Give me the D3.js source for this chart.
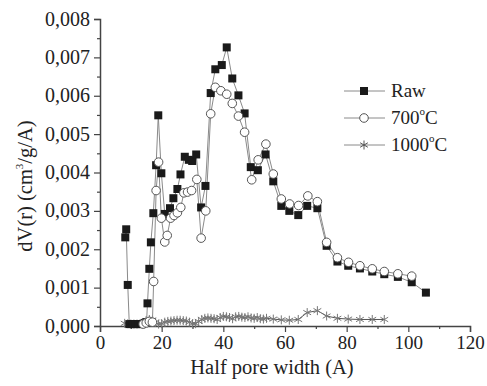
<!DOCTYPE html>
<html>
<head>
<meta charset="utf-8">
<script src="https://cdn.jsdelivr.net/npm/d3@7"></script>
<style>
  body { margin: 0; background: #fff; }
  text { font-family: "Liberation Serif", "Times New Roman", serif; fill: #222; }
</style>
</head>
<body>
<svg id="chart" width="487" height="386"></svg>
<script>
// Data (x = half pore width, y = dV(r) in cm3/g/A)
var rawX = [8.2, 8.5, 9.0, 9.5, 10.5, 11.5, 12.5, 13.5, 14.5, 15.1, 15.4, 16.0, 16.5, 17.3, 18.2, 18.9, 19.9, 21.0, 22.7, 23.8, 25.1, 26.1, 27.5, 28.8, 29.9, 31.2, 32.8, 34.2, 35.9, 37.4, 39.5, 41.1, 42.9, 44.9, 46.9, 48.9, 51.2, 53.7, 56.2, 58.8, 61.4, 64.3, 67.2, 70.5, 73.5, 77.0, 80.5, 84.3, 88.3, 92.2, 96.6, 101.1, 105.7]
var rawY = [0.00231, 0.00252, 0.00107, 0.00005, 0.00005, 0.00005, 0.00005, 0.00005, 0.00008, 0.00010, 0.00059, 0.00149, 0.00218, 0.00294, 0.00419, 0.00549, 0.00398, 0.00292, 0.00307, 0.00333, 0.00357, 0.00395, 0.00441, 0.00433, 0.00430, 0.00447, 0.00309, 0.00365, 0.00607, 0.00669, 0.00680, 0.00726, 0.00645, 0.00601, 0.00554, 0.00414, 0.00406, 0.00447, 0.00377, 0.00313, 0.00300, 0.00289, 0.00313, 0.00307, 0.00209, 0.00168, 0.00157, 0.00150, 0.00142, 0.00135, 0.00128, 0.00114, 0.00087]

var c700X = [14.0, 15.0, 16.0, 17.0, 17.4, 18.2, 19.0, 19.9, 21.0, 21.8, 22.9, 24.0, 25.1, 26.2, 27.2, 28.4, 29.7, 31.4, 32.8, 34.3, 35.9, 37.4, 39.2, 41.1, 42.9, 44.9, 46.9, 49.2, 51.3, 53.8, 56.2, 58.8, 61.5, 64.4, 67.4, 70.5, 73.5, 77.0, 80.6, 84.3, 88.3, 92.2, 96.6, 101.1]
var c700Y = [0.00005, 0.00008, 0.00012, 0.00010, 0.00116, 0.00353, 0.00427, 0.00281, 0.00219, 0.00236, 0.00281, 0.00288, 0.00295, 0.00309, 0.00347, 0.00349, 0.00353, 0.00382, 0.00229, 0.00300, 0.00553, 0.00622, 0.00613, 0.00604, 0.00580, 0.00547, 0.00505, 0.00381, 0.00433, 0.00474, 0.00396, 0.00331, 0.00318, 0.00314, 0.00339, 0.00324, 0.00218, 0.00178, 0.00166, 0.00157, 0.00149, 0.00142, 0.00136, 0.00130]

var c1000X = [8, 9, 10, 11, 12, 13, 14, 15, 16, 17, 18, 19, 20, 21, 22, 23, 24, 25, 26, 27, 28, 29, 30, 31, 32, 33, 34, 35, 36, 37, 38, 39, 40, 41, 42, 43, 44, 45, 46, 47, 48, 49, 50, 51, 52, 53, 54, 56.2, 58.8, 61.4, 64.3, 67.2, 70.5, 73.5, 77.0, 80.5, 84.3, 88.3, 92.2]
var c1000Y = [0.00007, 0.00006, 0.00005, 0.00005, 0.00005, 0.00006, 0.00008, 0.00014, 0.00017, 0.00015, 0.00010, 0.00005, 0.00006, 0.00010, 0.00012, 0.00013, 0.00014, 0.00015, 0.00015, 0.00014, 0.00013, 0.00010, 0.00006, 0.00006, 0.00012, 0.00017, 0.00020, 0.00021, 0.00020, 0.00019, 0.00017, 0.00022, 0.00025, 0.00024, 0.00022, 0.00019, 0.00024, 0.00025, 0.00023, 0.00022, 0.00024, 0.00021, 0.00020, 0.00022, 0.00019, 0.00018, 0.00020, 0.00018, 0.00016, 0.00015, 0.00017, 0.00035, 0.00040, 0.00026, 0.00020, 0.00018, 0.00017, 0.00017, 0.00017]

var xTicks = [0, 20, 40, 60, 80, 100, 120]
var yTicks = [0, 0.001, 0.002, 0.003, 0.004, 0.005, 0.006, 0.007, 0.008]

var svg = d3.select("#chart")

// scales
var x = d3.scaleLinear().domain([0, 120]).range([100, 470])
var y = d3.scaleLinear().domain([0, 0.008]).range([326, 19])

var axisColor = "#444"
var lineColor = "#8a8a8a"
var serif = "'Liberation Serif', 'Times New Roman', serif"

// axes
var xAxis = svg.append("g").attr("transform", "translate(0,326)")
  .call(d3.axisBottom(x).tickValues(xTicks).tickSize(6).tickFormat(d3.format("d")))
var xMinor = svg.append("g").attr("transform", "translate(0,326)")
  .call(d3.axisBottom(x).tickValues(d3.range(10, 120, 20)).tickSize(3).tickFormat(""))

var yAxis = svg.append("g").attr("transform", "translate(100,0)")
  .call(d3.axisLeft(y).tickValues(yTicks).tickSize(6)
    .tickFormat(function (d) { return d3.format(".3f")(d).replace(".", ",") }))
var yMinor = svg.append("g").attr("transform", "translate(100,0)")
  .call(d3.axisLeft(y).tickValues(d3.range(0.0005, 0.008, 0.001)).tickSize(3).tickFormat(""))

svg.selectAll("g").attr("font-family", serif)
svg.selectAll(".domain").attr("stroke", axisColor).attr("stroke-width", 1.5)
svg.selectAll(".tick line").attr("stroke", axisColor).attr("stroke-width", 1.2)
xAxis.selectAll("text").attr("font-size", 19).attr("dy", "0.72em")
yAxis.selectAll("text").attr("font-size", 20).attr("dx", "-1").attr("dy", "0.3em")
xMinor.select(".domain").remove()
yMinor.select(".domain").remove()

// series
function pts(xs, ys) {
  return xs.map(function (d, i) { return [d, ys[i]] })
}
var line = d3.line().x(function (d) { return x(d[0]) }).y(function (d) { return y(d[1]) })

var star = "M0,-4.5L0,4.5M-3.9,-2.25L3.9,2.25M-3.9,2.25L3.9,-2.25"

// 1000C
var s1000 = pts(c1000X, c1000Y)
svg.append("path").attr("d", line(s1000)).attr("fill", "none").attr("stroke", "#555").attr("stroke-width", 1)
svg.append("g").selectAll("path").data(s1000).join("path")
  .attr("transform", function (d) { return "translate(" + x(d[0]) + "," + y(d[1]) + ")" })
  .attr("d", star).attr("stroke", "#777").attr("stroke-width", 1).attr("fill", "none")

// 700C
var s700 = pts(c700X, c700Y)
svg.append("path").attr("d", line(s700)).attr("fill", "none").attr("stroke", lineColor).attr("stroke-width", 1)

// Raw
var sRaw = pts(rawX, rawY)
svg.append("path").attr("d", line(sRaw)).attr("fill", "none").attr("stroke", lineColor).attr("stroke-width", 1)
svg.append("g").selectAll("rect").data(sRaw).join("rect")
  .attr("x", function (d) { return x(d[0]) - 4 })
  .attr("y", function (d) { return y(d[1]) - 4 })
  .attr("width", 8).attr("height", 8).attr("fill", "#1a1a1a")

svg.append("g").selectAll("circle").data(s700).join("circle")
  .attr("cx", function (d) { return x(d[0]) })
  .attr("cy", function (d) { return y(d[1]) })
  .attr("r", 4.3).attr("fill", "#fff").attr("stroke", "#555").attr("stroke-width", 1)

// axis titles
svg.append("text").attr("x", 272).attr("y", 374).attr("text-anchor", "middle")
  .attr("font-size", 20.5).text("Half pore width (A)")

var yt = svg.append("text").attr("transform", "translate(32,186) rotate(-90)")
  .attr("text-anchor", "middle").attr("font-size", 20.5)
yt.append("tspan").text("dV(r) (cm")
yt.append("tspan").attr("font-size", 11).attr("dy", -9).text("3")
yt.append("tspan").attr("dy", 9).text("/g/A)")

// legend
var legend = svg.append("g")
var ly = [91, 118, 145]
var names = ["Raw", "700", "1000"]
legend.selectAll("line").data(ly).join("line")
  .attr("x1", 344).attr("x2", 385).attr("y1", function (d) { return d }).attr("y2", function (d) { return d })
  .attr("stroke", lineColor).attr("stroke-width", 1)
legend.append("rect").attr("x", 360).attr("y", ly[0] - 4).attr("width", 8).attr("height", 8).attr("fill", "#1a1a1a")
legend.append("circle").attr("cx", 364).attr("cy", ly[1]).attr("r", 4.3).attr("fill", "#fff").attr("stroke", "#555")
legend.append("path").attr("transform", "translate(364," + ly[2] + ")").attr("d", star).attr("stroke", "#555").attr("fill", "none")

names.forEach(function (n, i) {
  var t = legend.append("text").attr("x", 391).attr("y", ly[i] + 6).attr("font-size", 19)
  t.append("tspan").text(n)
  if (i > 0) {
    t.append("tspan").attr("font-size", 11).attr("dy", -9).text("o")
    t.append("tspan").attr("dy", 9).text("C")
  }
})
</script>
</body>
</html>
